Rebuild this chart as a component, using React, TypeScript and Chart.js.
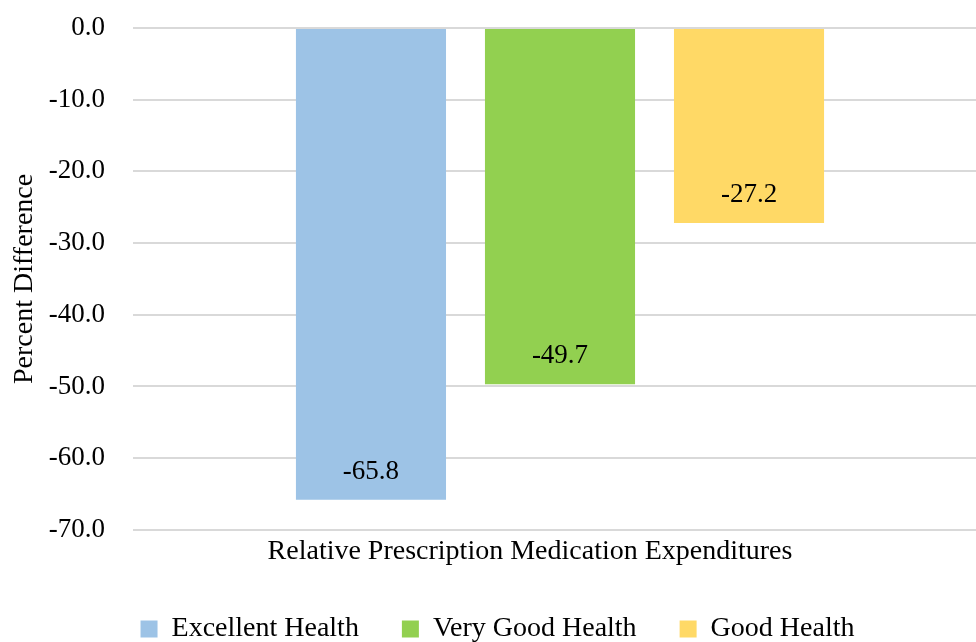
import { useEffect, useRef } from "react";
import { Chart, registerables } from "chart.js";

Chart.register(...registerables);

const categories = ["Relative Prescription Medication Expenditures"];
const seriesNames = ["Excellent Health", "Very Good Health", "Good Health"];
const excellentHealth = [-65.8];
const veryGoodHealth = [-49.7];
const goodHealth = [-27.2];
const yTickValues = [0, -10, -20, -30, -40, -50, -60, -70];
const yAxisTitle = "Percent Difference";

const seriesColors = ["#9DC3E6", "#92D050", "#FFD966"];
const FONT = "'Liberation Serif', 'Times New Roman', serif";

const valueLabels = {
  id: "valueLabels",
  afterDatasetsDraw(chart: any) {
    const ctx = chart.ctx;
    ctx.save();
    ctx.font = `27px ${FONT}`;
    ctx.fillStyle = "#000000";
    ctx.textAlign = "center";
    ctx.textBaseline = "middle";
    chart.data.datasets.forEach((ds: any, i: number) => {
      const meta = chart.getDatasetMeta(i);
      meta.data.forEach((el: any, j: number) => {
        const v = ds.data[j] as number;
        ctx.fillText(v.toFixed(1), el.x, el.y - 28);
      });
    });
    ctx.restore();
  },
};

export default function App() {
  const ref = useRef<HTMLCanvasElement | null>(null);

  useEffect(() => {
    if (!ref.current) return;
    const seriesData = [excellentHealth, veryGoodHealth, goodHealth];
    const chart = new Chart(ref.current, {
      type: "bar",
      data: {
        labels: categories,
        datasets: seriesNames.map((name, i) => ({
          label: name,
          data: seriesData[i],
          backgroundColor: seriesColors[i],
          borderWidth: 0,
          categoryPercentage: 0.664,
          barPercentage: 0.794,
        })),
      },
      options: {
        responsive: false,
        animation: false,
        events: [],
        layout: { padding: { top: 28, left: 0, right: 0, bottom: 0 } },
        plugins: {
          tooltip: { enabled: false },
          legend: {
            position: "bottom",
            labels: {
              boxWidth: 17,
              boxHeight: 17,
              padding: 43,
              color: "#000000",
              font: { family: FONT, size: 28 },
            },
          },
        },
        scales: {
          x: {
            grid: { display: false, drawTicks: false },
            border: { display: false },
            ticks: {
              color: "#000000",
              font: { family: FONT, size: 28 },
              padding: 5,
              labelOffset: -30,
              maxRotation: 0,
            },
            afterFit: (s: any) => {
              s.height = 42.2;
            },
          },
          y: {
            min: -70,
            max: 0,
            afterBuildTicks: (s: any) => {
              s.ticks = yTickValues.map((v) => ({ value: v }));
            },
            afterFit: (s: any) => {
              s.width = 125;
            },
            grid: {
              color: "#D9D9D9",
              lineWidth: 2,
              drawTicks: true,
              tickLength: 28,
              tickColor: "rgba(0,0,0,0)",
            },
            border: { display: false },
            ticks: {
              color: "#000000",
              font: { family: FONT, size: 27 },
              padding: 0,
              callback: (v: any) => Number(v).toFixed(1),
            },
            title: {
              display: true,
              text: yAxisTitle,
              color: "#000000",
              font: { family: FONT, size: 28 },
              padding: { top: 0, bottom: 0 },
            },
          },
        },
      },
      plugins: [valueLabels],
    });
    return () => chart.destroy();
  }, []);

  return (
    <div
      style={{
        position: "fixed",
        left: 0,
        top: 0,
        width: 976,
        height: 642,
        overflow: "hidden",
        background: "#ffffff",
      }}
    >
      <div style={{ position: "absolute", left: 8, top: 0, width: 979, height: 653 }}>
        <canvas
          ref={ref}
          width={979}
          height={653}
          style={{ display: "block", width: 979, height: 653 }}
        />
      </div>
    </div>
  );
}
